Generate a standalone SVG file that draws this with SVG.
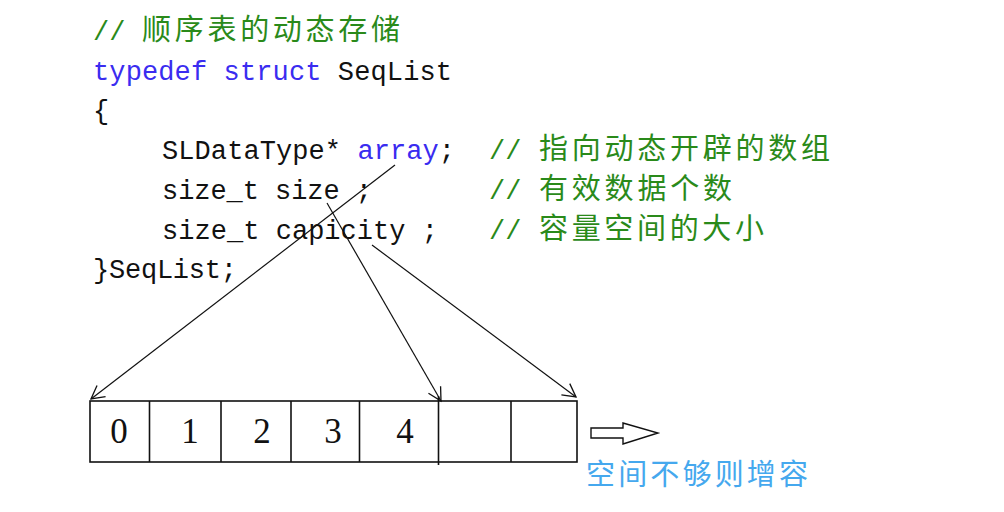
<svg xmlns="http://www.w3.org/2000/svg" width="1004" height="512" viewBox="0 0 1004 512">
<defs>
<style>
.code{font-family:"Liberation Mono","DejaVu Sans Mono",monospace;font-size:27px;fill:#111}
.kw{fill:#3a2cf0}
.cm{font-family:"Liberation Mono","DejaVu Sans Mono",monospace;font-size:27px;fill:#2a8a1a}
.cjk{font-family:"Noto Sans CJK SC","Noto Sans",sans-serif;font-size:29px;fill:#2a8a1a}
.cell{fill:none;stroke:#111;stroke-width:1.6}
.dig{font-family:"Liberation Serif","DejaVu Serif",serif;font-size:35px;fill:#111;text-anchor:middle}
.conn{stroke:#111;stroke-width:1.2;fill:none}
.note{font-family:"Noto Sans CJK SC","Noto Sans",sans-serif;font-size:29px;fill:#45a8ee}
</style>
<marker id="ah" markerWidth="16" markerHeight="16" refX="14" refY="8" orient="auto" markerUnits="userSpaceOnUse">
<path d="M1,1 L14,8 L1,15" fill="none" stroke="#111" stroke-width="1.3"/>
</marker>
</defs>
<rect width="1004" height="512" fill="#fff"/>

<g id="code">
<text class="cm" x="93" y="40">//</text>
<text class="cjk" x="142" y="40" textLength="258" lengthAdjust="spacing">顺序表的动态存储</text>
<text class="code" x="93" y="80" textLength="359" lengthAdjust="spacing"><tspan class="kw">typedef struct</tspan> SeqList</text>
<text class="code" x="93" y="119">{</text>
<text class="code" x="162" y="159" textLength="293" lengthAdjust="spacing">SLDataType* <tspan class="kw">array</tspan>;</text>
<text class="cm" x="489" y="159">//</text>
<text class="cjk" x="539" y="159" textLength="291" lengthAdjust="spacing">指向动态开辟的数组</text>
<text class="code" x="162" y="199" textLength="210" lengthAdjust="spacing">size_t size ;</text>
<text class="cm" x="489" y="199">//</text>
<text class="cjk" x="539" y="199" textLength="193" lengthAdjust="spacing">有效数据个数</text>
<text class="code" x="162" y="239" textLength="276" lengthAdjust="spacing">size_t capicity ;</text>
<text class="cm" x="489" y="239">//</text>
<text class="cjk" x="539" y="239" textLength="225" lengthAdjust="spacing">容量空间的大小</text>
<text class="code" x="93" y="278" textLength="144" lengthAdjust="spacing">}SeqList;</text>
</g>

<g id="array">
<rect class="cell" x="90" y="401" width="487" height="61"/>
<line class="cell" x1="149.5" y1="401" x2="149.5" y2="462"/>
<line class="cell" x1="221" y1="401" x2="221" y2="462"/>
<line class="cell" x1="291" y1="401" x2="291" y2="462"/>
<line class="cell" x1="359.5" y1="401" x2="359.5" y2="462"/>
<line class="cell" x1="438.5" y1="396" x2="438.5" y2="465"/>
<line class="cell" x1="511" y1="401" x2="511" y2="462"/>
<text class="dig" x="119" y="443">0</text>
<text class="dig" x="190" y="443">1</text>
<text class="dig" x="262" y="443">2</text>
<text class="dig" x="333" y="443">3</text>
<text class="dig" x="405" y="443">4</text>
</g>

<g id="connectors">
<line class="conn" x1="395" y1="165" x2="91" y2="399" marker-end="url(#ah)"/>
<line class="conn" x1="327" y1="203" x2="441" y2="401" marker-end="url(#ah)"/>
<line class="conn" x1="372" y1="245" x2="576" y2="397" marker-end="url(#ah)"/>
</g>

<g id="grow">
<path d="M591,428 L623,428 L623,423 L658,433 L623,444 L623,438 L591,438 Z" fill="#fff" stroke="#111" stroke-width="1.4"/>
<text class="note" x="586" y="485" textLength="222" lengthAdjust="spacing">空间不够则增容</text>
</g>
</svg>
